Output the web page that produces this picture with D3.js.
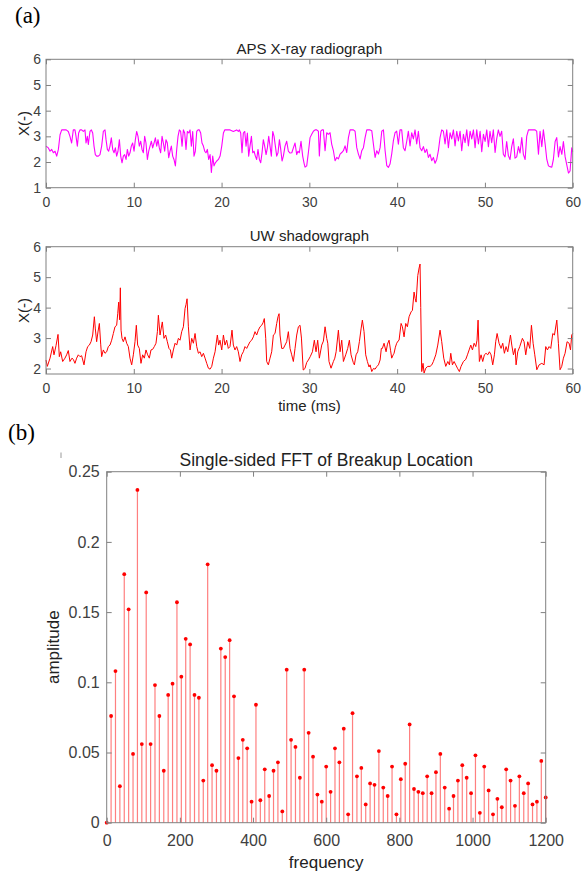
<!DOCTYPE html>
<html><head><meta charset="utf-8">
<script src="https://cdn.jsdelivr.net/npm/d3@7"></script>
<style>body{margin:0;background:#fff} svg{display:block}</style>
</head><body><svg id="c" width="586" height="875"></svg>
<script>
// ---------- DATA ----------
const apsTime = [0,0.27,0.46,0.65,0.84,1.03,1.22,1.41,1.60,1.79,2.00,2.30,2.54,2.73,2.92,3.11,3.30,3.42,3.57,3.72,3.87,4.06,4.25,4.44,4.56,4.71,4.82,5.01,5.17,5.32,5.47,5.62,5.77,5.96,6.15,6.34,6.53,6.72,6.84,6.99,7.14,7.29,7.44,7.60,7.75,7.90,8.05,8.20,8.36,8.51,8.66,8.81,8.96,9.12,9.27,9.42,9.57,9.72,9.87,10.03,10.18,10.33,10.48,10.63,10.79,10.94,11.09,11.24,11.39,11.55,11.70,11.85,12.00,12.15,12.31,12.46,12.61,12.76,12.91,13.06,13.22,13.37,13.52,13.67,13.82,13.98,14.13,14.28,14.43,14.58,14.74,14.89,15.04,15.19,15.34,15.50,15.65,15.80,15.95,16.10,16.26,16.41,16.56,16.71,16.86,17.01,17.17,17.32,17.47,17.62,17.77,17.93,18.08,18.23,18.38,18.53,18.69,18.84,18.99,19.14,19.29,19.45,19.64,19.83,20.02,20.21,20.36,20.58,20.97,21.34,21.53,21.72,21.91,22.03,22.18,22.33,22.48,22.64,22.79,22.94,23.09,23.24,23.40,23.55,23.70,23.85,24.00,24.15,24.31,24.46,24.61,24.76,24.91,25.07,25.22,25.37,25.52,25.67,25.83,25.98,26.13,26.28,26.43,26.59,26.74,26.89,27.04,27.23,27.42,27.61,27.80,28.00,28.18,28.37,28.56,28.70,28.86,29.05,29.24,29.40,29.51,29.70,29.90,30.08,30.30,30.46,30.65,30.84,31.03,31.14,31.30,31.45,31.60,31.79,31.98,32.17,32.36,32.55,32.74,32.93,33.12,33.31,33.50,33.69,33.88,34.07,34.26,34.45,34.64,34.83,35.02,35.21,35.40,35.59,35.78,35.97,36.16,36.35,36.54,36.73,36.92,37.11,37.30,37.49,37.68,37.87,38.06,38.25,38.44,38.63,38.82,39.00,39.19,39.38,39.57,39.76,39.95,40.14,40.33,40.52,40.71,40.90,41.09,41.28,41.47,41.66,41.85,42.04,42.23,42.42,42.61,42.80,42.99,43.18,43.37,43.56,43.75,43.94,44.13,44.32,44.51,44.70,44.89,45.08,45.27,45.46,45.65,45.84,46.03,46.22,46.41,46.60,46.79,46.98,47.17,47.36,47.55,47.74,47.93,48.12,48.31,48.50,48.69,48.88,49.07,49.26,49.45,49.64,49.83,50.02,50.21,50.40,50.58,50.77,50.96,51.16,51.34,51.53,51.72,51.91,52.10,52.29,52.48,52.67,52.86,53.05,53.24,53.43,53.62,53.82,54.00,54.20,54.38,54.58,54.76,54.96,55.34,55.72,55.90,56.10,56.28,56.48,56.66,56.86,57.05,57.24,57.42,57.62,57.80,58.00,58.18,58.38,58.56,58.76,58.94,59.14,59.32,59.52,59.70,59.89,60.00];
const apsX = [2.62,2.55,2.42,2.49,2.36,2.42,2.23,2.49,3.06,3.25,3.25,3.25,3.19,3.00,2.74,3.25,3.25,3.00,2.62,3.13,3.25,3.25,3.19,3.25,2.74,3.00,2.68,3.19,3.25,3.13,2.62,2.29,2.23,2.23,2.29,2.62,3.19,3.25,2.87,2.49,2.42,2.62,2.94,2.49,2.36,2.55,2.23,2.42,2.87,2.23,1.97,2.23,2.29,2.10,2.49,2.23,2.36,2.62,2.74,2.42,2.87,3.19,3.00,2.62,2.81,2.49,2.36,3.00,2.74,2.10,2.42,2.62,2.81,2.55,2.74,2.94,2.62,2.87,2.55,2.36,3.00,2.74,2.42,2.87,2.74,2.17,2.42,2.62,2.23,2.10,1.85,2.49,3.00,3.25,3.19,2.62,3.25,3.13,2.49,3.19,3.13,3.25,2.62,3.19,2.23,2.42,3.19,3.25,3.25,3.13,2.74,2.62,2.42,2.36,2.49,2.10,2.29,1.59,2.23,1.85,1.97,2.04,2.10,2.23,2.62,3.13,3.25,3.25,3.25,3.19,3.22,3.25,3.19,3.25,3.13,2.36,3.13,3.19,2.62,3.13,2.23,2.62,3.00,2.36,2.42,2.23,2.10,2.49,2.10,1.97,2.36,2.87,2.62,2.29,2.55,3.00,2.62,2.23,3.19,3.00,2.62,2.23,2.36,2.87,2.49,2.04,2.23,2.62,2.81,2.42,2.35,2.36,2.55,2.74,2.29,2.42,2.36,2.81,2.23,1.95,1.80,1.85,2.40,2.95,3.10,3.20,3.25,3.25,3.20,2.24,3.20,3.25,3.25,2.44,3.14,3.08,3.14,2.69,2.44,2.05,2.18,2.12,2.31,2.37,2.44,2.63,2.37,2.95,3.25,3.25,3.25,3.20,2.56,2.31,2.12,2.44,2.56,2.95,3.25,3.25,3.25,3.22,2.69,2.18,2.44,2.31,2.56,3.20,3.25,2.44,1.86,1.79,1.92,2.31,2.82,3.14,3.20,2.69,3.25,3.25,2.56,2.44,2.80,3.20,2.63,3.14,2.90,3.25,2.70,3.20,2.56,2.44,2.60,2.37,2.50,2.18,2.30,2.05,2.18,1.95,2.10,2.44,2.95,3.25,3.20,2.70,3.25,2.56,3.14,2.90,3.25,2.63,3.20,2.82,3.20,2.44,3.08,2.75,3.25,2.63,3.20,2.90,3.25,2.56,3.25,2.70,3.20,2.40,3.08,2.80,3.25,2.60,3.20,2.75,3.25,2.37,2.90,3.25,3.00,3.20,2.30,2.20,2.80,2.25,2.10,2.60,2.90,2.15,2.20,2.60,2.35,2.95,2.30,2.10,3.00,3.25,3.25,3.25,3.20,2.30,3.20,2.60,3.25,2.70,2.10,1.85,1.82,1.80,2.10,2.80,2.95,2.20,2.60,2.30,2.80,2.20,1.90,1.57,1.65,2.55,2.40];

const uwTime = [0,0.15,0.46,0.76,0.91,1.14,1.37,1.52,1.67,1.90,2.16,2.35,2.54,2.73,2.96,3.11,3.30,3.49,3.68,3.87,4.06,4.33,4.56,4.75,4.94,5.13,5.32,5.51,5.62,5.77,5.92,6.08,6.23,6.34,6.53,6.72,6.91,7.10,7.29,7.48,7.67,7.86,8.05,8.17,8.28,8.39,8.47,8.55,8.66,8.81,9.00,9.19,9.38,9.57,9.76,9.95,10.14,10.29,10.44,10.63,10.82,11.01,11.20,11.39,11.58,11.77,11.96,12.15,12.34,12.53,12.69,12.80,12.99,13.25,13.44,13.63,13.82,14.01,14.17,14.32,14.51,14.70,14.89,15.08,15.27,15.46,15.65,15.84,15.95,16.07,16.22,16.41,16.60,16.79,16.98,17.17,17.36,17.55,17.74,17.93,18.12,18.31,18.50,18.69,18.88,19.07,19.26,19.52,19.67,19.82,20.02,20.21,20.39,20.58,20.77,20.96,21.19,21.34,21.53,21.72,21.91,22.10,22.29,22.48,22.67,22.86,23.05,23.24,23.43,23.62,23.81,24.00,24.19,24.38,24.57,24.72,24.87,25.03,25.14,25.33,25.52,25.71,25.90,26.09,26.28,26.43,26.55,26.66,26.85,27.04,27.23,27.42,27.61,27.80,27.99,28.18,28.37,28.56,28.75,28.94,29.10,29.30,29.50,29.70,29.89,30.10,30.35,30.57,30.76,30.95,31.14,31.41,31.60,31.79,31.98,32.10,32.24,32.47,32.74,32.90,33.05,33.31,33.50,33.69,33.88,34.14,34.37,34.56,34.75,35.00,35.13,35.32,35.51,35.70,35.89,36.04,36.23,36.42,36.61,36.80,36.92,37.11,37.30,37.49,37.70,37.87,38.06,38.20,38.32,38.51,38.74,38.90,39.08,39.25,39.38,39.55,39.65,39.80,39.95,40.10,40.22,40.45,40.60,40.79,40.98,41.17,41.36,41.59,41.74,41.93,42.05,42.16,42.35,42.50,42.61,42.69,42.80,42.95,43.07,43.26,43.49,43.75,43.95,44.13,44.40,44.63,44.89,45.08,45.31,45.54,45.77,45.96,46.11,46.30,46.49,46.68,46.87,47.09,47.28,47.55,47.82,48.01,48.20,48.39,48.58,48.77,48.96,49.10,49.22,49.37,49.56,49.75,49.94,50.13,50.32,50.51,50.70,50.89,51.08,51.23,51.39,51.61,51.84,52.03,52.22,52.41,52.60,52.91,53.06,53.25,53.44,53.55,53.74,53.97,54.27,54.46,54.65,54.88,55.11,55.30,55.49,55.68,55.91,56.17,56.48,56.74,56.93,57.12,57.31,57.50,57.73,57.92,58.19,58.37,58.56,58.75,58.94,59.13,59.36,59.59,59.75,59.89,60.00];
const uwX = [2.28,2.07,2.34,2.72,2.45,2.75,3.12,2.39,2.55,2.23,2.34,2.45,2.59,2.23,2.34,2.30,2.17,2.34,2.45,2.39,2.42,2.12,2.55,2.72,2.77,2.88,3.10,3.70,3.30,2.88,3.20,3.48,2.80,2.39,2.61,2.50,2.55,2.72,2.77,2.93,3.15,3.37,3.42,3.80,4.18,3.60,4.65,3.26,2.99,2.88,3.04,2.83,2.72,2.34,2.12,2.45,2.88,3.42,2.77,2.66,2.17,2.45,2.34,2.61,2.45,2.34,2.61,2.63,2.72,2.83,3.21,3.75,3.10,3.53,2.99,3.10,2.88,2.66,2.61,2.34,2.61,2.83,2.77,2.99,2.93,3.21,3.37,3.97,4.10,4.29,3.37,2.61,2.99,2.83,3.15,2.72,2.50,2.55,2.39,2.50,2.34,2.17,2.01,1.98,2.07,2.34,2.55,3.10,2.77,2.93,2.61,3.10,2.77,2.93,2.66,2.72,3.26,2.77,2.61,2.72,2.55,2.23,2.45,2.55,2.72,2.66,2.77,2.88,2.93,3.04,3.21,3.10,3.26,3.37,3.42,3.50,3.64,2.99,2.23,2.12,2.34,2.55,3.10,3.15,3.48,3.70,3.80,3.10,2.66,2.66,2.77,2.88,3.21,2.66,2.45,2.23,2.66,3.10,3.37,3.42,3.00,1.95,2.00,2.20,2.28,2.39,2.55,2.93,2.55,2.93,2.34,2.77,2.90,3.37,2.99,2.83,2.23,2.01,2.23,2.34,2.55,3.26,2.55,2.93,2.23,2.45,2.66,2.93,2.45,2.20,2.12,2.45,2.55,2.88,3.30,3.59,3.21,2.45,2.23,2.05,2.12,1.90,2.00,1.98,2.07,2.12,2.28,2.66,2.66,2.83,2.55,2.80,2.93,2.60,2.34,2.45,2.50,2.70,2.83,2.90,2.93,3.48,3.37,3.04,3.48,3.37,3.70,3.86,3.91,4.51,4.30,4.18,5.05,5.30,5.43,4.00,1.90,2.17,1.85,2.01,2.07,2.07,2.12,2.23,2.45,2.77,3.26,2.88,2.34,2.07,2.23,2.12,2.50,2.12,2.23,2.12,2.01,1.90,2.07,2.23,2.30,2.45,2.61,2.77,2.61,2.83,2.72,2.93,3.59,2.23,2.45,2.23,2.45,2.50,2.45,2.55,2.45,2.12,2.45,2.88,3.15,2.83,2.66,2.83,2.50,2.72,2.55,3.10,2.77,2.45,2.66,2.12,2.55,2.72,2.99,2.88,2.45,2.88,2.66,3.42,2.83,2.45,1.96,2.12,2.17,2.12,2.72,2.61,2.72,2.66,3.15,3.10,3.59,2.83,1.96,2.07,2.34,2.50,2.88,2.83,2.61,3.10,3.15];

const fftFreq = [0,12,24,36,48,60,72,84,96,108,120,132,144,156,168,180,192,204,216,228,240,252,264,276,288,300,312,324,336,348,360,372,384,396,408,420,432,444,456,468,480,492,504,516,528,540,552,564,576,588,600,612,624,636,648,660,672,684,696,708,720,732,744,756,768,780,792,804,816,828,840,852,864,876,888,900,912,924,936,948,960,972,984,996,1008,1020,1032,1044,1056,1068,1080,1092,1104,1116,1128,1140,1152,1164,1176,1188,1200];
const fftAmp = [0,0.076,0.108,0.026,0.177,0.152,0.049,0.237,0.056,0.164,0.056,0.098,0.076,0.037,0.091,0.099,0.157,0.104,0.131,0.127,0.091,0.089,0.030,0.184,0.041,0.037,0.124,0.118,0.130,0.090,0.046,0.059,0.053,0.015,0.084,0.016,0.038,0.019,0.037,0.043,0.008,0.109,0.059,0.054,0.032,0.109,0.064,0.047,0.020,0.015,0.040,0.022,0.053,0.043,0.067,0.006,0.078,0.033,0.039,0.013,0.028,0.027,0.051,0.025,0.019,0.040,0.006,0.031,0.042,0.070,0.024,0.022,0.021,0.033,0.021,0.036,0.049,0.025,0.010,0.019,0.030,0.041,0.032,0.021,0.048,0.007,0.040,0.023,0.006,0.017,0.011,0.038,0.030,0.012,0.033,0.021,0.028,0.013,0.015,0.044,0.018];

const timeTicks = [0,10,20,30,40,50,60];
const apsYTicks = [1,2,3,4,5,6];
const uwYTicks = [2,3,4,5,6];
const freqTicks = [0,200,400,600,800,1000,1200];
const ampTicks = [0,0.05,0.1,0.15,0.2,0.25];

// ---------- DRAW ----------
const svg = d3.select('#c');
const FONT = '"Liberation Sans", Arial, Helvetica, sans-serif';
const AXC = '#808080', TXT = '#404040';

function frame(x, y, o) {
  const g = svg.append('g');
  const fix = (sel, keep) => {
    sel.select('.domain').remove();
    sel.selectAll('line').attr('stroke', AXC);
    sel.selectAll('text').attr('fill', TXT).style('font-size', o.tf + 'px').style('font-family', FONT);
    if (!keep) sel.selectAll('text').remove();
  };
  const [x0, x1] = x.range(), [yb, yt] = y.range();
  g.append('g').attr('transform', `translate(0,${yb})`)
    .call(d3.axisBottom(x).tickValues(o.xt).tickFormat(d => String(d)).tickSize(-o.tl).tickPadding(o.xp)).call(s => fix(s, true));
  g.append('g').attr('transform', `translate(0,${yt})`)
    .call(d3.axisTop(x).tickValues(o.xt).tickSize(-o.tl)).call(s => fix(s, false));
  g.append('g').attr('transform', `translate(${x0},0)`)
    .call(d3.axisLeft(y).tickValues(o.yt).tickFormat(d => String(d)).tickSize(-o.tl).tickPadding(o.yp)).call(s => fix(s, true));
  g.append('g').attr('transform', `translate(${x1},0)`)
    .call(d3.axisRight(y).tickValues(o.yt).tickSize(-o.tl)).call(s => fix(s, false));
  g.append('rect').attr('x', x0).attr('y', yt).attr('width', x1 - x0).attr('height', yb - yt)
    .attr('fill', 'none').attr('stroke', AXC).attr('stroke-width', 1);
  return g;
}
function label(txt, x, y, size, opts = {}) {
  const t = svg.append('text').attr('x', x).attr('y', y).text(txt)
    .attr('text-anchor', opts.anchor || 'middle')
    .style('font-family', opts.family || FONT).style('font-size', size + 'px')
    .attr('fill', opts.fill || '#222');
  if (opts.rot) t.attr('transform', `rotate(-90,${x},${y})`);
  return t;
}

// Panel (a) top
const xa = d3.scaleLinear().domain([0, 60]).range([46, 572.7]);
const ya1 = d3.scaleLinear().domain([1, 6]).range([187.7, 59.3]);
const line1 = d3.line().x((d, i) => xa(apsTime[i])).y(d => ya1(d));
svg.append('path').attr('d', line1(apsX)).attr('fill', 'none').attr('stroke', '#ff00ff').attr('stroke-width', 1.1).attr('stroke-linejoin', 'round');
frame(xa, ya1, {xt: timeTicks, yt: apsYTicks, tl: 5, tf: 14, xp: 9, yp: 5});
label('APS X-ray radiograph', 309.4, 53.5, 15);
label('X(-)', 28.5, 123.5, 15, {rot: true});

// Panel (a) bottom
const ya2 = d3.scaleLinear().domain([1.82, 6]).range([374, 246.7]);
const line2 = d3.line().x((d, i) => xa(uwTime[i])).y(d => ya2(d));
svg.append('path').attr('d', line2(uwX)).attr('fill', 'none').attr('stroke', '#ff0000').attr('stroke-width', 1).attr('stroke-linejoin', 'round');
frame(xa, ya2, {xt: timeTicks, yt: uwYTicks, tl: 5, tf: 14, xp: 9, yp: 5});
label('UW shadowgraph', 309.4, 241, 15);
label('X(-)', 28.5, 310.5, 15, {rot: true});
label('time (ms)', 309.4, 411, 15);

// Panel (b)
const xb = d3.scaleLinear().domain([0, 1200]).range([106.7, 545.7]);
const yb = d3.scaleLinear().domain([0, 0.25]).range([822.7, 471.7]);
const gs = svg.append('g');
gs.selectAll('line').data(fftAmp).join('line')
  .attr('x1', (d, i) => xb(fftFreq[i])).attr('x2', (d, i) => xb(fftFreq[i]))
  .attr('y1', yb(0)).attr('y2', d => yb(d))
  .attr('stroke', '#ff0000').attr('stroke-opacity', 0.5).attr('stroke-width', 1.2);
gs.selectAll('circle').data(fftAmp).join('circle')
  .attr('cx', (d, i) => xb(fftFreq[i])).attr('cy', d => yb(d)).attr('r', 1.9)
  .attr('fill', '#ff0000');
frame(xb, yb, {xt: freqTicks, yt: ampTicks, tl: 5, tf: 16, xp: 12, yp: 7});
label('Single-sided FFT of Breakup Location', 326.2, 466, 17.5);
label('amplitude', 59, 647.2, 17, {rot: true});
label('frequency', 326.2, 868.4, 17);
svg.append('line').attr('x1', 61).attr('x2', 61).attr('y1', 452.5).attr('y2', 458).attr('stroke', '#999').attr('stroke-width', 1);

// panel letters
label('(a)', 15, 22.5, 23, {anchor: 'start', family: '"Liberation Serif", "Times New Roman", serif', fill: '#000'});
label('(b)', 8, 440, 23, {anchor: 'start', family: '"Liberation Serif", "Times New Roman", serif', fill: '#000'});
</script></body></html>
